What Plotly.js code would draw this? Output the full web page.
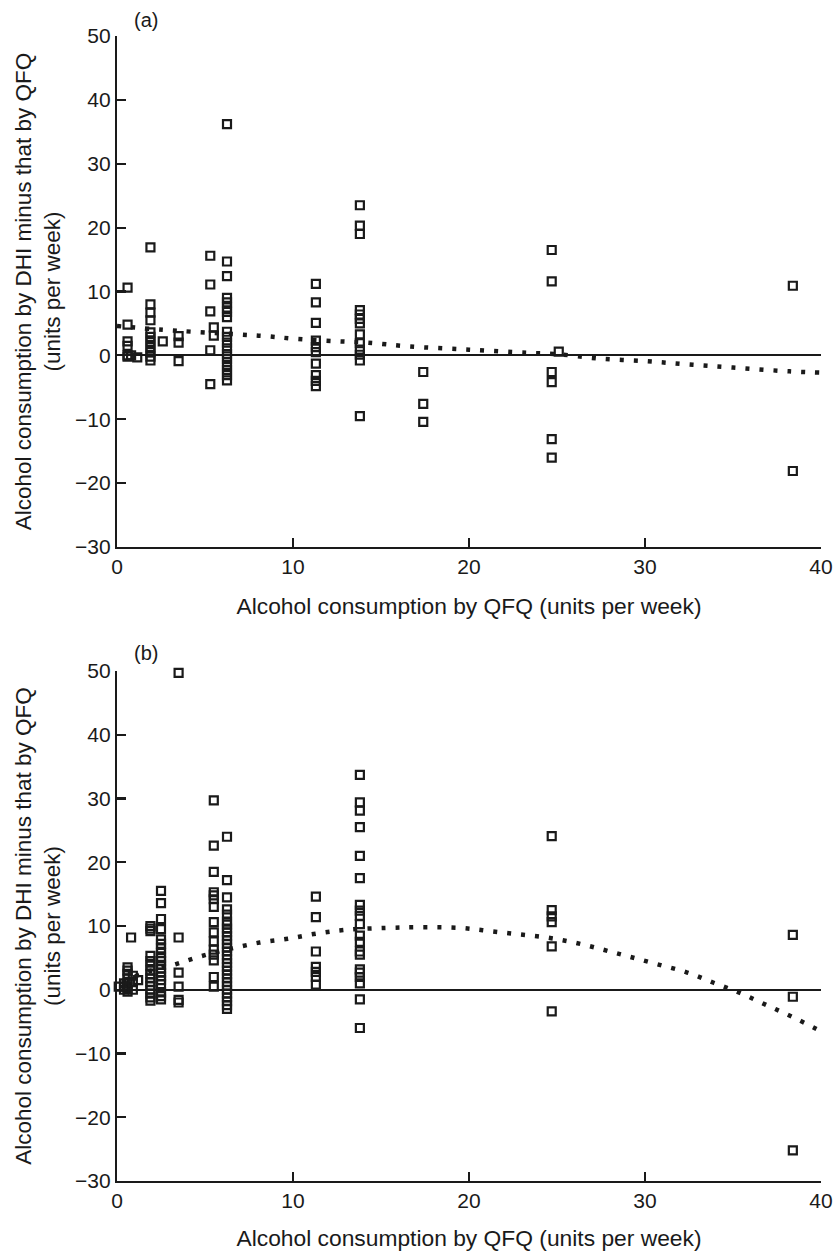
<!DOCTYPE html>
<html>
<head>
<meta charset="utf-8">
<script src="https://cdn.plot.ly/plotly-3.0.1.min.js"></script>
<style>html,body{margin:0;padding:0;background:#fff;}</style>
</head>
<body>
<div id="chart" style="width:833px;height:1251px;"></div>
<script>
// ---------- Panel (a) data ----------
const aX = [
  0.6,0.6,0.6,0.6,0.6,0.6, 0.8, 1.15,
  1.9,1.9,1.9,1.9,1.9,1.9,1.9,1.9,1.9,1.9,1.9,
  2.6,
  3.5,3.5,3.5,
  5.3,5.3,5.3,5.3,5.3, 5.5,5.5,
  6.25,6.25,6.25,6.25,6.25,6.25,6.25,6.25,6.25,6.25,6.25,6.25,6.25,6.25,6.25,6.25,6.25,6.25,
  11.3,11.3,11.3,11.3,11.3,11.3,11.3,11.3,11.3,11.3,
  13.8,13.8,13.8,13.8,13.8,13.8,13.8,13.8,13.8,13.8,13.8,13.8,13.8,
  17.4,17.4,17.4,
  24.7,24.7,24.7,24.7,24.7,24.7, 25.1,
  38.4,38.4
];
const aY = [
  10.6,4.8,2.2,1.5,0.0,-0.2, 0.0, -0.3,
  16.9,8.0,6.7,5.5,3.6,2.9,2.1,1.3,0.5,-0.2,-0.8,
  2.2,
  3.0,2.0,-0.9,
  15.6,11.1,6.9,0.8,-4.5, 4.4,3.1,
  36.2,14.7,12.4,9.0,8.3,7.5,6.8,6.0,3.7,2.9,2.0,1.1,0.2,-0.6,-1.5,-2.3,-3.1,-3.9,
  11.2,8.3,5.1,2.3,1.3,0.5,-1.3,-3.1,-4.0,-4.8,
  23.5,20.3,19.0,7.1,6.4,5.7,5.0,3.3,1.9,0.9,0.1,-0.8,-9.5,
  -2.6,-7.6,-10.4,
  16.5,11.6,-2.6,-4.2,-13.1,-16.0, 0.6,
  10.9,-18.1
];
const aCurveX = [0, 2.6, 4.3, 6.8, 8.5, 10.1, 12.6, 14.2, 16.6, 20, 23.3, 25, 27.4, 30, 32.4, 35, 38.2, 40];
const aCurveY = [4.6, 4.0, 3.7, 3.3, 3.0, 2.6, 2.2, 2.0, 1.4, 0.9, 0.4, 0.2, -0.5, -0.9, -1.4, -1.9, -2.5, -2.7];

// ---------- Panel (b) data ----------
const bX = [
  0.1, 0.4,0.4,0.4, 0.6,0.6,0.6,0.6,0.6,0.6,0.6, 0.8, 0.9,0.9,0.9, 1.2,
  1.9,1.9,1.9,1.9,1.9,1.9,1.9,1.9,1.9,1.9,1.9,1.9,1.9,1.9,1.9,
  2.5,2.5,2.5,2.5,2.5,2.5,2.5,2.5,2.5,2.5,2.5,2.5,2.5,2.5,2.5,2.5,2.5,2.5,2.5,
  3.5,3.5,3.5,3.5,3.5,3.5,
  5.5,5.5,5.5,5.5,5.5,5.5,5.5,5.5,5.5,5.5,5.5,5.5,5.5,5.5,5.5,
  6.25,6.25,6.25,6.25,6.25,6.25,6.25,6.25,6.25,6.25,6.25,6.25,6.25,6.25,6.25,6.25,6.25,6.25,6.25,6.25,6.25,6.25,6.25,6.25,6.25,6.25,6.25,6.25,6.25,
  11.3,11.3,11.3,11.3,11.3,11.3,11.3,
  13.8,13.8,13.8,13.8,13.8,13.8,13.8,13.8,13.8,13.8,13.8,13.8,13.8,13.8,13.8,13.8,13.8,13.8,13.8,13.8,
  24.7,24.7,24.7,24.7,24.7,24.7,
  38.4,38.4,38.4
];
const bY = [
  0.5, 0.0,0.5,1.0, 0.3,1.0,1.8,2.5,3.0,3.5,-0.3, 8.2, 0.0,1.2,2.2, 1.5,
  10.0,9.6,9.2,5.3,4.5,3.8,3.0,2.4,1.8,1.2,0.6,0.0,-0.6,-1.2,-1.7,
  15.5,13.6,11.1,9.5,7.9,7.2,6.5,5.8,5.0,4.5,3.9,3.3,2.7,2.1,1.5,0.9,-0.4,-1.0,-1.5,
  49.7,8.2,2.7,0.5,-1.6,-2.0,
  29.7,22.6,18.5,15.3,14.8,14.2,13.0,10.6,9.0,7.6,6.3,5.5,4.6,2.0,0.5,
  24.0,17.2,14.5,12.6,11.8,10.7,10.2,9.6,9.0,8.4,7.8,7.2,6.6,6.0,5.4,4.8,4.2,3.6,3.0,2.4,1.8,1.2,0.6,0.0,-0.6,-1.2,-1.8,-2.4,-3.0,
  14.6,11.4,6.0,3.6,2.8,2.0,0.8,
  33.7,29.4,28.1,25.5,21.0,17.5,13.3,12.4,11.6,10.3,8.5,7.5,6.0,5.5,3.2,2.7,2.0,1.0,-1.5,-6.0,
  24.1,12.5,11.5,10.6,6.8,-3.4,
  8.6,-1.1,-25.2
];
const bCurveX = [0.3, 1.6, 3.2, 4.7, 6.4, 8.1, 9.7, 11.3, 13, 15.3, 17.1, 19.5, 21.2, 22.8, 24.4, 26, 27.6, 29.1, 30.7, 32.4, 33.9, 35.4, 36.9, 38.4, 40];
const bCurveY = [1.2, 2.7, 3.9, 5.2, 6.4, 7.4, 8.0, 8.8, 9.4, 9.7, 9.8, 9.7, 9.2, 8.7, 8.2, 7.4, 6.3, 5.2, 4.0, 2.7, 1.1, -0.5, -2.4, -4.3, -6.5];

// ---------- Axis labels ----------
const xTickVals = [0, 10, 20, 30, 40];
const yTickVals = [-30, -20, -10, 0, 10, 20, 30, 40, 50];
const xTitle = "Alcohol consumption by QFQ (units per week)";
const yTitle = "Alcohol consumption by DHI minus that by QFQ<br>(units per week)";
const panelLabels = ["(a)", "(b)"];

const INK = '#1a1a1a';
const FONT = 'Liberation Sans, Arial, sans-serif';

const markerStyle = {symbol: 'square-open', size: 8, color: INK, line: {color: INK, width: 2.2}};
const curveStyle = {color: INK, width: 4.5, dash: '4px,10px', shape: 'spline', smoothing: 1};

const traces = [
  {x: aCurveX, y: aCurveY, xaxis: 'x', yaxis: 'y', mode: 'lines', line: curveStyle, hoverinfo: 'skip', cliponaxis: false},
  {x: aX, y: aY, xaxis: 'x', yaxis: 'y', mode: 'markers', marker: markerStyle, cliponaxis: false},
  {x: bCurveX, y: bCurveY, xaxis: 'x2', yaxis: 'y2', mode: 'lines', line: curveStyle, hoverinfo: 'skip', cliponaxis: false},
  {x: bX, y: bY, xaxis: 'x2', yaxis: 'y2', mode: 'markers', marker: markerStyle, cliponaxis: false}
];

function xAxis(anchor) {
  return {
    domain: [0, 1], anchor: anchor, range: [0, 40], tickvals: xTickVals,
    ticks: 'inside', ticklen: 9, tickwidth: 2.2, tickcolor: INK,
    showline: true, linewidth: 2.2, linecolor: INK, zeroline: false, showgrid: false,
    tickfont: {family: FONT, size: 21, color: INK},
    title: {text: xTitle, font: {family: FONT, size: 22.8, color: INK}, standoff: 21}
  };
}
function yAxis(anchor, domain) {
  return {
    domain: domain, anchor: anchor, range: [-30, 50], tickvals: yTickVals,
    ticks: 'inside', ticklen: 9, tickwidth: 2.2, tickcolor: INK,
    showline: true, linewidth: 2.2, linecolor: INK, showgrid: false,
    zeroline: true, zerolinewidth: 2, zerolinecolor: INK,
    tickfont: {family: FONT, size: 21, color: INK},
    title: {text: yTitle, font: {family: FONT, size: 22.5, color: INK}, standoff: 8}
  };
}

const layout = {
  width: 833, height: 1251,
  margin: {l: 117, r: 12, t: 36, b: 70},
  paper_bgcolor: '#fff', plot_bgcolor: '#fff',
  showlegend: false,
  font: {family: FONT, color: INK},
  xaxis: xAxis('y'),
  yaxis: yAxis('x', [0.5537, 1]),
  xaxis2: xAxis('y2'),
  yaxis2: yAxis('x2', [0, 0.4454]),
  annotations: [
    {text: panelLabels[0], xref: 'paper', yref: 'paper', x: 0.0412, y: 1.014, showarrow: false,
     xanchor: 'center', yanchor: 'middle', font: {family: FONT, size: 20, color: INK}},
    {text: panelLabels[1], xref: 'paper', yref: 'paper', x: 0.0412, y: 0.4611, showarrow: false,
     xanchor: 'center', yanchor: 'middle', font: {family: FONT, size: 20, color: INK}}
  ]
};

Plotly.newPlot('chart', traces, layout, {displayModeBar: false, staticPlot: true});
</script>
</body>
</html>
